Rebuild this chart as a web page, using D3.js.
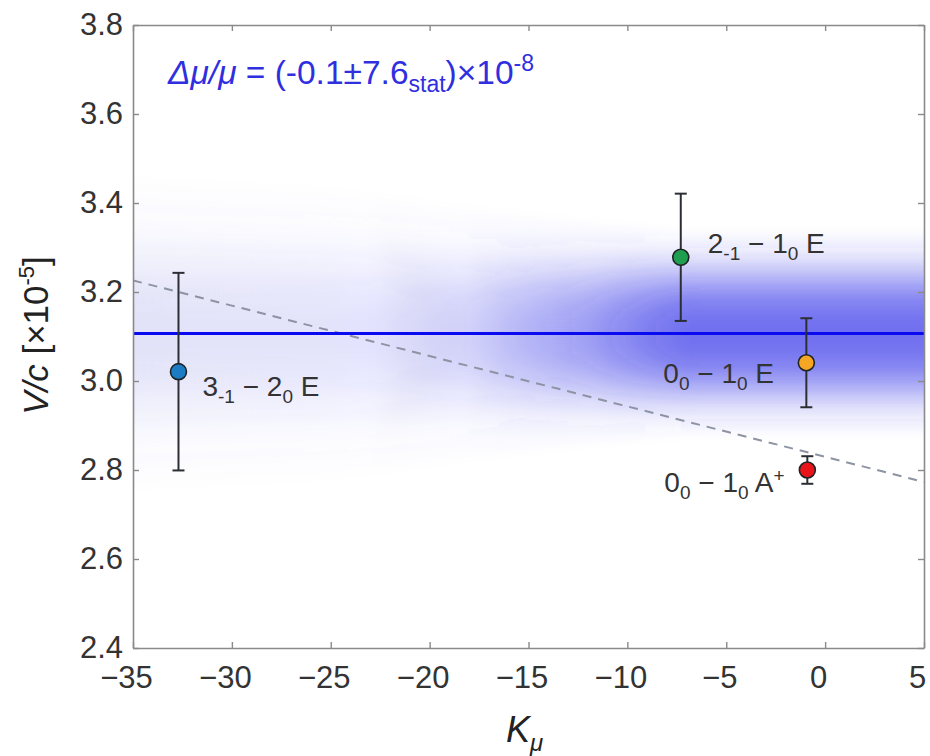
<!DOCTYPE html>
<html>
<head>
<meta charset="utf-8">
<script src="https://cdn.jsdelivr.net/npm/d3@7"></script>
<style>
  body { margin: 0; background: #fff; }
  text { font-family: "Liberation Sans", Arial, Helvetica, sans-serif; }
</style>
</head>
<body>
<div id="chart"></div>
<script>
// data
const kmu    = [-32.7, -7.3, -0.95, -0.9];
const vc     = [3.021, 3.278, 3.041, 2.800];
const vcErr  = [0.222, 0.143, 0.100, 0.031];
const labels = [
  [["3", ""], ["-1", "sub"], [" \u2212 2", ""], ["0", "sub"], [" E", ""]],
  [["2", ""], ["-1", "sub"], [" \u2212 1", ""], ["0", "sub"], [" E", ""]],
  [["0", ""], ["0", "sub"], [" \u2212 1", ""], ["0", "sub"], [" E", ""]],
  [["0", ""], ["0", "sub"], [" \u2212 1", ""], ["0", "sub"], [" A", ""], ["+", "sup"]]
];
const fitV  = 3.107;                 // weighted mean, Δμ/μ ≈ 0
const dashK = [-35, 5];
const dashV = [3.226, 2.773];

// shaded confidence band (spread and strength along K)
const bandK     = [-35, -25, -18, -12, -7, 5];
const bandSigma = [0.15, 0.14, 0.12, 0.105, 0.095, 0.095];
const bandAlpha = [0.14, 0.15, 0.24, 0.47, 0.70, 0.70];

const xTicks = [-35, -30, -25, -20, -15, -10, -5, 0, 5];
const yTicks = [2.4, 2.6, 2.8, 3.0, 3.2, 3.4, 3.6, 3.8];

// styles
const pointColors = ["#1b7cc4", "#1e9e4e", "#f5a623", "#e8141a"];
const labelPos = [[24, 24], [27, -4], [-143, 20], [-143, 22]];

const W = 930, H = 756;
const margin = {top: 25, left: 133};
const width = 924 - margin.left, height = 648 - margin.top;

const svg = d3.select("#chart").append("svg")
  .attr("width", W).attr("height", H);
const g = svg.append("g").attr("transform", `translate(${margin.left},${margin.top})`);

const x = d3.scaleLinear().domain([-35, 5]).range([0, width]);
const y = d3.scaleLinear().domain([2.4, 3.8]).range([height, 0]);

const defs = svg.append("defs");
defs.append("clipPath").attr("id", "plot")
  .append("rect").attr("width", width).attr("height", height);

const sigmaAt = d3.scaleLinear().domain(bandK).range(bandSigma).clamp(true);

// band: nested areas (quantiles of a soft profile) blurred together
const N = 20, P = 2.4;
const levels = d3.range(1, N + 1).map(j => Math.pow(-2 * Math.log((j - 0.5) / N), 1 / P));
const layerAlpha = a => 1 - Math.pow(1 - a, 1 / N);

const grad = defs.append("linearGradient").attr("id", "bandFade")
  .attr("gradientUnits", "userSpaceOnUse")
  .attr("x1", x(bandK[0])).attr("x2", x(bandK[bandK.length - 1]))
  .attr("y1", 0).attr("y2", 0);
grad.selectAll("stop").data(bandK).join("stop")
  .attr("offset", k => (k - bandK[0]) / (bandK[bandK.length - 1] - bandK[0]))
  .attr("stop-color", "#3535e8")
  .attr("stop-opacity", (k, i) => layerAlpha(bandAlpha[i]));

const blur = defs.append("filter").attr("id", "soft")
  .attr("filterUnits", "userSpaceOnUse")
  .attr("x", -100).attr("y", -100).attr("width", width + 200).attr("height", height + 200);
blur.append("feGaussianBlur").attr("stdDeviation", "8 6");

const ks = d3.range(-40, 10.01, 0.5);
const plot = g.append("g").attr("clip-path", "url(#plot)");
const bandG = plot.append("g").attr("filter", "url(#soft)");
bandG.selectAll("path").data(levels).join("path")
  .attr("d", z => d3.area()
    .x(k => x(k))
    .y0(k => y(fitV - z * sigmaAt(k)))
    .y1(k => y(fitV + z * sigmaAt(k)))
    .curve(d3.curveBasis)(ks))
  .attr("fill", "url(#bandFade)");

// dashed reference line
plot.append("line")
  .attr("x1", x(dashK[0])).attr("y1", y(dashV[0]))
  .attr("x2", x(dashK[1])).attr("y2", y(dashV[1]))
  .attr("stroke", "#8d93a3").attr("stroke-width", 2)
  .attr("stroke-dasharray", "9,7");

// fit line
plot.append("line")
  .attr("x1", 0).attr("x2", width)
  .attr("y1", y(fitV)).attr("y2", y(fitV))
  .attr("stroke", "#0a0af0").attr("stroke-width", 3);

// axes (ticks point inward on all four sides)
const axisStyle = sel => {
  sel.select(".domain").attr("stroke", "#8a8a8a").attr("stroke-width", 1.6);
  sel.selectAll(".tick line").attr("stroke", "#8a8a8a").attr("stroke-width", 1.4);
  sel.selectAll(".tick text").attr("fill", "#333").attr("font-size", 31)
    .attr("font-family", "'Liberation Sans', Arial, sans-serif");
};
g.append("g").attr("transform", `translate(0,${height})`)
  .call(d3.axisBottom(x).tickValues(xTicks).tickSize(-6).tickPadding(18).tickSizeOuter(0))
  .call(axisStyle)
  .selectAll(".tick text").attr("dx", -7);
g.append("g")
  .call(d3.axisTop(x).tickValues(xTicks).tickSize(-6).tickFormat("").tickSizeOuter(0))
  .call(axisStyle);
g.append("g")
  .call(d3.axisLeft(y).tickValues(yTicks).tickSize(-6).tickPadding(10).tickSizeOuter(0)
    .tickFormat(d3.format(".1f")))
  .call(axisStyle);
g.append("g").attr("transform", `translate(${width},0)`)
  .call(d3.axisRight(y).tickValues(yTicks).tickSize(-6).tickFormat("").tickSizeOuter(0))
  .call(axisStyle);

// error bars and points
const pts = kmu.map((k, i) => ({k, v: vc[i], e: vcErr[i], c: pointColors[i], lab: labels[i], lp: labelPos[i]}));
const eb = g.append("g").attr("stroke", "#2b2f33").attr("stroke-width", 2);
pts.forEach(d => {
  const cx = x(d.k);
  eb.append("line").attr("x1", cx).attr("x2", cx).attr("y1", y(d.v + d.e)).attr("y2", y(d.v - d.e));
  [d.v + d.e, d.v - d.e].forEach(v =>
    eb.append("line").attr("x1", cx - 6).attr("x2", cx + 6).attr("y1", y(v)).attr("y2", y(v)));
});
g.selectAll("circle.pt").data(pts).join("circle")
  .attr("class", "pt")
  .attr("cx", d => x(d.k)).attr("cy", d => y(d.v)).attr("r", 8)
  .attr("fill", d => d.c).attr("stroke", "#1f2326").attr("stroke-width", 1.6);

// transition labels with sub/superscripts
pts.forEach(d => {
  const t = g.append("text")
    .attr("x", x(d.k) + d.lp[0]).attr("y", y(d.v) + d.lp[1])
    .attr("fill", "#333").attr("font-size", 28);
  let shift = 0;
  d.lab.forEach(([s, kind]) => {
    const target = kind === "sub" ? 7 : kind === "sup" ? -10 : 0;
    t.append("tspan").attr("dy", target - shift)
      .attr("font-size", kind ? 19 : 28).text(s);
    shift = target;
  });
});

// annotation
const ann = g.append("text").attr("x", 35).attr("y", 59)
  .attr("fill", "#2f2fe0").attr("font-size", 33.5);
ann.append("tspan").attr("font-style", "italic").text("\u0394\u03bc/\u03bc");
ann.append("tspan").text(" = (-0.1\u00b17.6");
ann.append("tspan").attr("dy", 8).attr("font-size", 23).text("stat");
ann.append("tspan").attr("dy", -8).text(")\u00d710");
ann.append("tspan").attr("dy", -13).attr("font-size", 23).text("-8");

// axis titles
const yl = svg.append("text")
  .attr("transform", `translate(48,${margin.top + height / 2 - 1}) rotate(-90)`)
  .attr("text-anchor", "middle").attr("fill", "#222").attr("font-size", 35);
yl.append("tspan").attr("font-style", "italic").text("V/c");
yl.append("tspan").text(" [\u00d710");
yl.append("tspan").attr("dy", -14).attr("font-size", 22).text("-5");
yl.append("tspan").attr("dy", 14).text("]");

const xl = svg.append("text")
  .attr("x", 506).attr("y", 742)
  .attr("fill", "#222").attr("font-size", 36).attr("font-style", "italic");
xl.append("tspan").text("K");
xl.append("tspan").attr("dy", 9).attr("font-size", 24).text("\u03bc");
</script>
</body>
</html>
